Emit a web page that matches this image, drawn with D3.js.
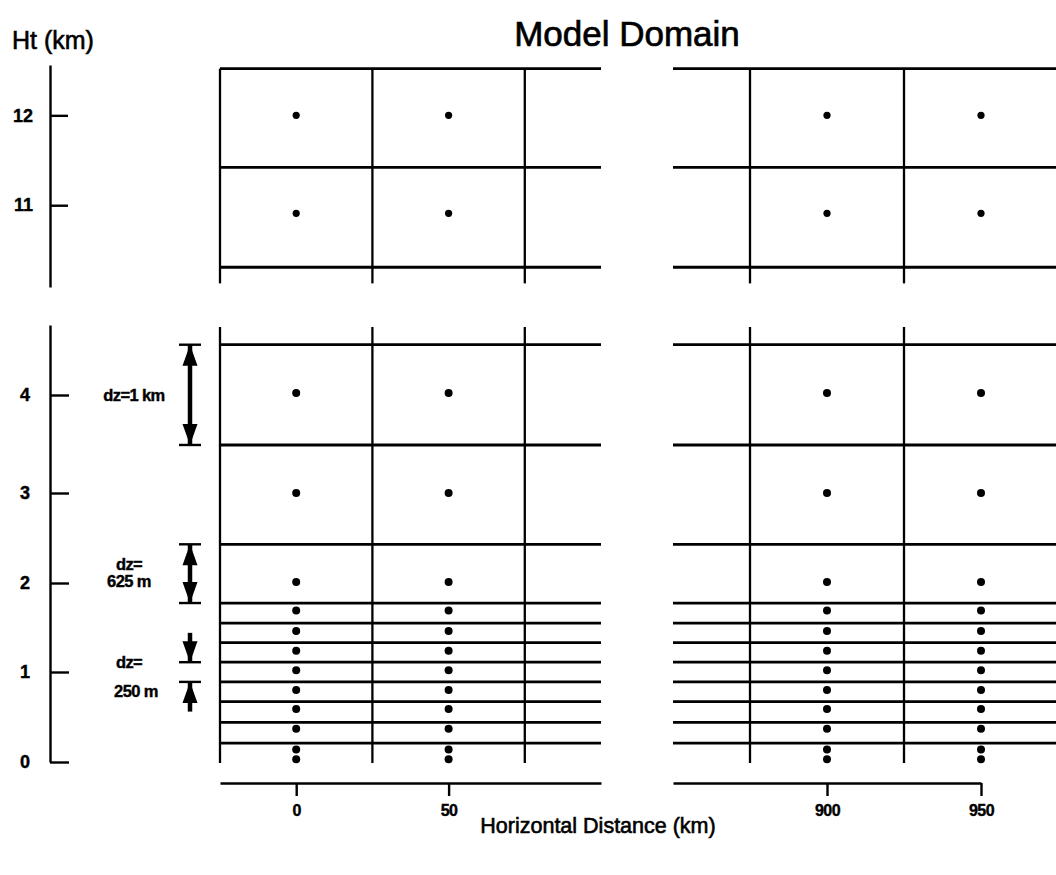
<!DOCTYPE html>
<html>
<head>
<meta charset="utf-8">
<script src="https://cdn.jsdelivr.net/npm/d3@7"></script>
<style>
  body { margin: 0; background: #fff; }
  svg { display: block; font-family: "Liberation Sans", Arial, sans-serif; }
  .axis path, .axis line { stroke: #000; stroke-width: 2.4; }
  .axis text { font-size: 18px; font-weight: bold; fill: #000; stroke: #000; stroke-width: 0.4; }
  .xaxis text { font-size: 16px; letter-spacing: -0.5px; }
</style>
</head>
<body>
<div id="chart"></div>
<script>
// Grid columns (km) and cell boundaries for the two panels of the broken x axis
const colsLeft = [0, 50];
const colsRight = [900, 950];
const boundsLeft = [-25, 25, 75];
const boundsRight = [875, 925, 975];
const xTicksLeft = [0, 50];
const xTicksRight = [900, 950];

// Upper (10-12.5 km) part of the domain
const htTicksUpper = [11, 12];
const edgesUpper = [10.31, 11.42, 12.52];
const levelsUpper = [10.91, 12.0];

// Lower (0-4.5 km) part of the domain
const htTicksLower = [0, 1, 2, 3, 4];
const edgesLower = [0.21, 0.44, 0.67, 0.89, 1.11, 1.33, 1.55, 1.775, 2.43, 3.49, 4.51];
const levelsLower = [0.03, 0.14, 0.37, 0.59, 0.80, 1.02, 1.24, 1.46, 1.69, 2.01, 3.0, 4.02];

// Layer thickness annotations (km)
const dzLabels = [
  { lines: ["dz=1 km"], at: 4.0 },
  { lines: ["dz=", "625 m"], at: 2.1 },
  { lines: ["dz=", "250 m"], at: 1.0 }
];
const dzSpans = [
  { from: 3.49, to: 4.51, type: "double" },
  { from: 1.775, to: 2.43, type: "double" },
  { from: 1.44, to: 1.11, type: "single" },
  { from: 0.56, to: 0.89, type: "single" }
];

const width = 1056, height = 875;
const svg = d3.select("#chart").append("svg")
  .attr("width", width).attr("height", height);

// Scales: x is broken into two panels, y into two sections
const xLeft = d3.scaleLinear().domain([-25, 100]).range([220, 601]);
const xRight = d3.scaleLinear().domain([850, 950]).range([673, 981]);
const yUp = d3.scaleLinear().domain([10.09, 12.56]).range([287, 65]);
const yLow = d3.scaleLinear().domain([0, 1, 2, 3, 4, 4.71]).range([762, 672, 583, 493, 395, 325]);

const panels = [
  { x: xLeft, x0: -25, x1: 100, bounds: boundsLeft, cols: colsLeft },
  { x: xRight, x0: 850, x1: 975, bounds: boundsRight, cols: colsRight }
];
const sections = [
  { y: yUp, edges: edgesUpper, levels: levelsUpper, v0: 10.13, v1: 12.52, r: 3.6 },
  { y: yLow, edges: edgesLower, levels: levelsLower, v0: -0.01, v1: 4.69, r: 4 }
];

const grid = svg.append("g");
panels.forEach(p => {
  sections.forEach(s => {
    // horizontal layer edges
    grid.selectAll(null).data(s.edges).enter().append("line")
      .attr("x1", p.x(p.x0)).attr("x2", p.x(p.x1))
      .attr("y1", d => s.y(d)).attr("y2", d => s.y(d))
      .attr("stroke", "#000").attr("stroke-width", 2.8);
    // vertical cell boundaries
    grid.selectAll(null).data(p.bounds).enter().append("line")
      .attr("x1", d => p.x(d)).attr("x2", d => p.x(d))
      .attr("y1", s.y(s.v0)).attr("y2", s.y(s.v1))
      .attr("stroke", "#000").attr("stroke-width", 2.3);
    // grid points
    const pts = d3.cross(p.cols, s.levels);
    grid.selectAll(null).data(pts).enter().append("circle")
      .attr("cx", d => p.x(d[0])).attr("cy", d => s.y(d[1]))
      .attr("r", s.r).attr("fill", "#000");
  });
});

// Height axes (ticks point right, labels left)
const fmt = d3.format("d");
svg.append("g").attr("class", "axis").attr("transform", "translate(50,0)")
  .call(d3.axisLeft(yUp).tickValues(htTicksUpper).tickFormat(fmt)
    .tickSizeInner(-18).tickSizeOuter(0).tickPadding(17));
svg.append("g").attr("class", "axis").attr("transform", "translate(50,0)")
  .call(d3.axisLeft(yLow).tickValues(htTicksLower).tickFormat(fmt)
    .tickSizeInner(-19).tickSizeOuter(0).tickPadding(20));

// Distance axes
svg.append("g").attr("class", "axis xaxis").attr("transform", "translate(0,783)")
  .call(d3.axisBottom(xLeft).tickValues(xTicksLeft).tickFormat(fmt)
    .tickSizeInner(13).tickSizeOuter(0).tickPadding(9));
svg.append("g").attr("class", "axis xaxis").attr("transform", "translate(0,783)")
  .call(d3.axisBottom(xRight).tickValues(xTicksRight).tickFormat(fmt)
    .tickSizeInner(13).tickSizeOuter(0).tickPadding(9));

// dz arrows
const ax = 190;
const arrows = svg.append("g").attr("fill", "#000").attr("stroke", "#000");
function head(g, yTip, dir) {
  // dir = +1 points down, -1 points up
  g.append("path")
    .attr("d", `M${ax},${yTip} L${ax - 7.5},${yTip - dir * 21} L${ax + 7.5},${yTip - dir * 21} Z`)
    .attr("stroke", "none");
}
dzSpans.forEach(s => {
  const yA = yLow(s.from), yB = yLow(s.to);
  const g = arrows.append("g");
  g.append("line").attr("x1", ax).attr("x2", ax).attr("y1", yA).attr("y2", yB).attr("stroke-width", 4.5);
  const dirB = yB > yA ? 1 : -1;
  g.append("line").attr("x1", ax - 11).attr("x2", ax + 11).attr("y1", yB).attr("y2", yB).attr("stroke-width", 2.4);
  head(g, yB, dirB);
  if (s.type === "double") {
    g.append("line").attr("x1", ax - 11).attr("x2", ax + 11).attr("y1", yA).attr("y2", yA).attr("stroke-width", 2.4);
    head(g, yA, -dirB);
  }
});

// dz labels
dzLabels.forEach(l => {
  const n = l.lines.length;
  const t = svg.append("text")
    .attr("y", yLow(l.at))
    .attr("text-anchor", "middle")
    .attr("stroke", "#000").attr("stroke-width", 0.4)
    .style("font-size", "16.5px").style("font-weight", "bold").style("letter-spacing", "-0.6px");
  l.lines.forEach((s, i) => {
    t.append("tspan").attr("x", i === 1 && s.startsWith("250") ? 136 : (n === 1 ? 134 : 129))
      .attr("dy", i === 0 ? (n === 1 ? "0.35em" : "-0.25em") : (s.startsWith("250") ? "1.75em" : "1.05em"))
      .text(s);
  });
});

// Titles
svg.append("text").attr("x", 627).attr("y", 46).attr("text-anchor", "middle")
  .style("font-size", "35px").attr("stroke", "#000").attr("stroke-width", 0.7)
  .text("Model Domain");
svg.append("text").attr("x", 12).attr("y", 49)
  .style("font-size", "25px").attr("stroke", "#000").attr("stroke-width", 0.6)
  .text("Ht (km)");
svg.append("text").attr("x", 598).attr("y", 833).attr("text-anchor", "middle")
  .style("font-size", "21.5px").attr("stroke", "#000").attr("stroke-width", 0.6)
  .text("Horizontal Distance (km)");
</script>
</body>
</html>
